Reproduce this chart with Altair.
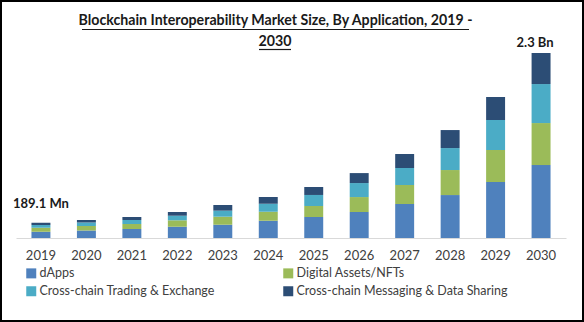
import altair as alt
import pandas as pd

years = ["2019", "2020", "2021", "2022", "2023", "2024", "2025", "2026", "2027", "2028", "2029", "2030"]
segments = ["dApps", "Digital Assets/NFTs", "Cross-chain Trading & Exchange", "Cross-chain Messaging & Data Sharing"]
dapps = [79, 93, 112, 140, 165, 215, 261, 323, 423, 534, 696, 907]
nfts = [48, 56, 62, 80, 100, 112, 137, 186, 236, 311, 398, 522]
trading = [36, 44, 50, 57, 75, 100, 137, 174, 211, 273, 373, 485]
messaging = [26.1, 31, 37, 46, 70, 83, 99, 124, 174, 224, 286, 386]
colors = ["#4F81BD", "#9BBB59", "#4BACC6", "#2C4D75"]

title_lines = ["Blockchain Interoperability Market Size, By Application, 2019 -", "2030"]
first_label = "189.1 Mn"
last_label = "2.3 Bn"

series = [dapps, nfts, trading, messaging]
rows = []
for si, (seg, vals) in enumerate(zip(segments, series)):
    for y, v in zip(years, vals):
        rows.append({"year": y, "segment": seg, "value": v, "order": si})
df = pd.DataFrame(rows)

totals = [sum(s[i] for s in series) for i in range(len(years))]
first_df = pd.DataFrame({"year": [years[0]], "total": [totals[0]], "label": [first_label]})
last_df = pd.DataFrame({"year": [years[-1]], "total": [totals[-1]], "label": [last_label]})

FONT = "Lato"
TXT = "#404040"

# legend is filled column by column: order so that rows read as in the reference
legend_order = [segments[0], segments[2], segments[1], segments[3]]
legend_colors = [colors[0], colors[2], colors[1], colors[3]]

xscale = alt.Scale(domain=years, paddingInner=0.583, paddingOuter=0.34)
yscale = alt.Scale(domain=[0, 2300], nice=False, zero=True)

bars = alt.Chart(df).mark_bar().encode(
    x=alt.X("year:N", scale=xscale, sort=years,
            axis=alt.Axis(title=None, labelAngle=0, ticks=False, domainColor="#d9d9d9",
                          domainWidth=1, labelFontSize=13, labelFont=FONT, labelColor=TXT,
                          labelPadding=11, grid=False)),
    y=alt.Y("value:Q", stack="zero", scale=yscale, axis=None),
    color=alt.Color("segment:N", scale=alt.Scale(domain=legend_order, range=legend_colors),
                    legend=alt.Legend(title=None, orient="none", legendX=9, legendY=214,
                                      columns=2, columnPadding=67, rowPadding=5,
                                      symbolType="square", symbolSize=100, symbolStrokeWidth=0,
                                      labelFontSize=12.5, labelFont=FONT, labelColor=TXT,
                                      labelLimit=400, labelOffset=2, padding=0)),
    order=alt.Order("order:Q", sort="ascending"),
)

lab1 = alt.Chart(first_df).mark_text(font=FONT, fontWeight="bold", fontSize=13, color="#1a1a1a",
                                      baseline="alphabetic", dy=-15).encode(
    x=alt.X("year:N", scale=xscale, sort=years), y=alt.Y("total:Q", scale=yscale), text="label:N")
lab2 = alt.Chart(last_df).mark_text(font=FONT, fontWeight="bold", fontSize=13, color="#1a1a1a",
                                     baseline="alphabetic", dy=-6, dx=-6).encode(
    x=alt.X("year:N", scale=xscale, sort=years), y=alt.Y("total:Q", scale=yscale), text="label:N")

one = pd.DataFrame({"a": [0]})
t1 = alt.Chart(one).mark_text(font=FONT, fontWeight="bold", fontSize=14.2, color="#1a1a1a",
                              baseline="alphabetic", align="center").encode(
    x=alt.value(259.5), y=alt.value(-28), text=alt.value(title_lines[0]))
t2 = alt.Chart(one).mark_text(font=FONT, fontWeight="bold", fontSize=14.2, color="#1a1a1a",
                              baseline="alphabetic", align="center").encode(
    x=alt.value(259), y=alt.value(-7), text=alt.value(title_lines[1]))
u1 = alt.Chart(one).mark_rule(color="#1a1a1a", strokeWidth=1.2).encode(
    x=alt.value(66), x2=alt.value(453), y=alt.value(-23.5))
u2 = alt.Chart(one).mark_rule(color="#1a1a1a", strokeWidth=1.2).encode(
    x=alt.value(243), x2=alt.value(275), y=alt.value(-3.5))
border = alt.Chart(one).mark_rect(filled=False, stroke="black", strokeWidth=2).encode(
    x=alt.value(-15), x2=alt.value(567), y=alt.value(-52), y2=alt.value(268))

chart = alt.layer(bars, lab1, lab2, t1, t2, u1, u2, border).properties(
    width=550, height=185,
    autosize=alt.AutoSizeParams(type="none"),
    padding={"left": 16, "top": 53, "right": 18, "bottom": 84},
    background="white",
).configure_view(stroke=None)

chart.save("out.html", embed_options={"renderer": "svg", "actions": False})
